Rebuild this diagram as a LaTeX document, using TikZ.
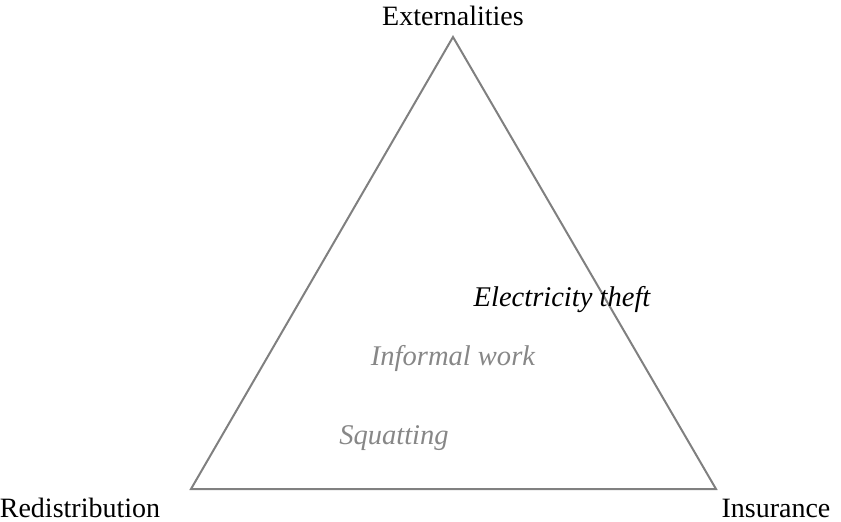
\documentclass[tikz,border=0pt]{standalone}
\usepackage{fontspec}
\setmainfont{Liberation Serif}
\definecolor{edgegray}{RGB}{128,128,128}
\definecolor{textgray}{RGB}{135,135,135}
\tikzset{
  lbl/.style={anchor=base, inner sep=0pt, font=\fontsize{10.5}{12}\selectfont},
  ilbl/.style={lbl, font=\fontsize{10.7}{12}\selectfont\itshape},
  glbl/.style={ilbl, text=textgray},
  tri/.style={draw=edgegray, line width=0.75pt, line join=miter}
}
\begin{document}
\begin{tikzpicture}[x=0.375pt, y=-0.375pt]
\useasboundingbox (0,0) rectangle (841,522);
\coordinate (top) at (453,37);
\coordinate (bl) at (191,489);
\coordinate (br) at (716,489);
\draw[tri] (top) -- (bl) -- (br) -- cycle;
\node[lbl] (ext) at (453,25) {Externalities};
\node[lbl] (red) at (80,517) {Redistribution};
\node[lbl] (ins) at (776,517) {Insurance};
\node[ilbl] (elec) at (562,306) {Electricity theft};
\node[glbl] (inf) at (453,365) {Informal work};
\node[glbl] (squ) at (394,444) {Squatting};
\end{tikzpicture}
\end{document}
